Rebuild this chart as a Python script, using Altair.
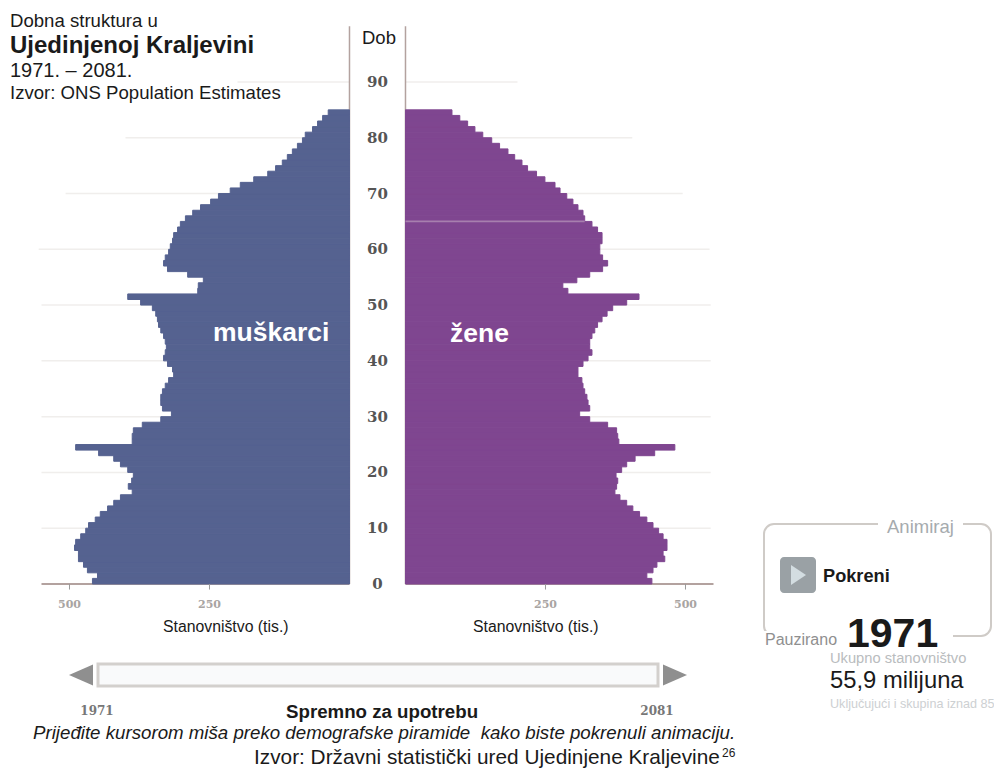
import altair as alt
import pandas as pd

# Population by single year of age (thousands), 1971
male = [459,450,468,475,484,484,491,489,480,471,466,454,445,432,421,409,388,395,389,386,
        396,409,421,448,489,388,388,386,370,337,318,334,337,337,334,329,323,314,316,325,
        332,329,327,329,332,337,341,343,346,352,373,396,271,270,261,289,325,332,329,323,
        320,316,314,307,302,293,280,266,248,234,213,195,171,146,132,120,111,102,93,84,
        79,66,57,48,38]
female = [440,431,442,449,463,460,467,467,460,452,442,431,418,406,395,383,374,377,379,376,
          386,395,410,445,481,381,379,377,361,329,311,329,326,324,320,317,315,308,308,317,
          326,333,329,329,333,338,343,351,360,370,395,417,290,281,306,329,352,361,352,347,
          347,351,351,343,333,320,317,308,299,288,276,267,249,234,218,208,195,183,168,154,
          138,124,111,97,83]
ages = list(range(85))

grid_ages = [10, 20, 30, 40, 50, 60, 70, 80, 90]
grid_left = [550, 550, 550, 550, 550, 555, 507, 400, 200]
grid_right = [545, 545, 545, 545, 545, 543, 495, 405, 200]
age_labels = [0, 10, 20, 30, 40, 50, 60, 70, 80, 90]
pop_ticks = [250, 500]

GAP = 50       # half of the central age column, in thousands
MALE_C, FEMALE_C = "#556290", "#7f4690"
AXIS_C = "#b3a29f"
FONT = "Liberation Sans"

xs = alt.Scale(domain=[-659.8, 1100.9], nice=False, zero=False)
ys = alt.Scale(domain=[-32.99, 103.26], nice=False, zero=False)
X = lambda f: alt.X(f, type="quantitative", scale=xs, axis=None)
Y = lambda f: alt.Y(f, type="quantitative", scale=ys, axis=None)

bars = pd.DataFrame(
    [{"a": a, "a1": a + 1, "x0": -GAP, "x1": -GAP - v, "c": MALE_C} for a, v in zip(ages, male)]
    + [{"a": a, "a1": a + 1, "x0": GAP, "x1": GAP + v, "c": FEMALE_C} for a, v in zip(ages, female)]
)
grid = pd.DataFrame(
    [{"a": a, "x0": -GAP, "x1": -GAP - v} for a, v in zip(grid_ages, grid_left)]
    + [{"a": a, "x0": GAP, "x1": GAP + v} for a, v in zip(grid_ages, grid_right)]
)
ticks = pd.DataFrame(
    [{"x": s * (GAP + t), "t": str(t), "a": 0, "a2": -1, "ay": -3.7} for t in pop_ticks for s in (-1, 1)]
)
base_line = pd.DataFrame([{"x0": -GAP, "x1": -GAP - 550, "a": 0}, {"x0": GAP, "x1": GAP + 550, "a": 0}])
columns = pd.DataFrame([{"x": -GAP, "a": 0, "a2": 100}, {"x": GAP, "a": 0, "a2": 100}])
age_df = pd.DataFrame({"a": age_labels, "t": [str(a) for a in age_labels], "x": [0] * len(age_labels)})
hilite = pd.DataFrame([{"x0": GAP, "x1": GAP + 320, "a": 65}])

layers = []
layers.append(alt.Chart(grid).mark_rule(color="#f0eeec", strokeWidth=1.5).encode(
    x=X("x0"), x2="x1", y=Y("a")))
layers.append(alt.Chart(columns).mark_rule(color=AXIS_C, strokeWidth=1.5).encode(
    x=X("x"), y=Y("a"), y2="a2"))
layers.append(alt.Chart(base_line).mark_rule(color=AXIS_C, strokeWidth=2).encode(
    x=X("x0"), x2="x1", y=Y("a")))
layers.append(alt.Chart(bars).mark_rect(strokeWidth=1).encode(
    x=X("x0"), x2="x1", y=Y("a"), y2="a1",
    fill=alt.Fill("c:N", scale=None), stroke=alt.Stroke("c:N", scale=None)))
layers.append(alt.Chart(hilite).mark_rule(color="#a77fae", strokeWidth=1.8).encode(
    x=X("x0"), x2="x1", y=Y("a")))
layers.append(alt.Chart(ticks).mark_rule(color="#9a9a9a", strokeWidth=1).encode(
    x=X("x"), y=Y("a"), y2="a2"))
layers.append(alt.Chart(ticks).mark_text(font="DejaVu Serif", fontSize=11, fontWeight="bold", color="#a8a4a2").encode(
    x=X("x"), y=Y("ay"), text="t:N"))
layers.append(alt.Chart(age_df).mark_text(font="DejaVu Serif", fontSize=15, color="#555555", fontWeight="bold").encode(
    x=X("x"), y=Y("a"), text="t:N"))


def txt(s, x, y, size, color="#1a1a1a", weight="normal", style="normal", font=FONT, align="left"):
    return alt.Chart(pd.DataFrame({"t": [s]})).mark_text(
        font=font, fontSize=size, color=color, fontWeight=weight, fontStyle=style,
        align=align, baseline="alphabetic", text=s
    ).encode(x=alt.value(x - 8), y=alt.value(y - 8))


def box(x, x2, y, y2, **kw):
    return alt.Chart(pd.DataFrame({"t": [0]})).mark_rect(**kw).encode(
        x=alt.value(x - 8), x2=alt.value(x2 - 8), y=alt.value(y - 8), y2=alt.value(y2 - 8))


def tri(shape, x, y, size, color):
    return alt.Chart(pd.DataFrame({"t": [0]})).mark_point(
        shape=shape, size=size, fill=color, filled=True, opacity=1, strokeWidth=0
    ).encode(x=alt.value(x - 8), y=alt.value(y - 8))


# slider
layers += [
    box(98, 658, 664, 686, fill="#f9fafb", stroke="#d3d0cd", strokeWidth=3),
    tri("M1,-0.875L-1,0L1,0.875Z", 81, 675, 576, "#8f8f8f"),
    tri("M-1,-0.875L1,0L-1,0.875Z", 675, 675, 576, "#8f8f8f"),
    txt("1971", 97, 715, 12, color="#777", weight="bold", font="DejaVu Serif", align="center"),
    txt("2081", 657, 715, 12, color="#777", weight="bold", font="DejaVu Serif", align="center"),
]
# animation panel
layers += [
    box(764, 991, 524, 636, fill="transparent", stroke="#cfcbc7", strokeWidth=2, cornerRadius=10),
    box(878, 963, 515, 535, fill="white"),
    box(755, 953, 631, 650, fill="white"),
    box(780, 816, 557, 593, fill="#9aa1a5", cornerRadius=4),
    tri("M-0.75,-1L0.75,0L-0.75,1Z", 798.5, 575, 400, "#d3dde1"),
]
layers += [
    txt("Dobna struktura u", 10, 27, 18.6),
    txt("Ujedinjenoj Kraljevini", 10, 53, 24, weight="bold"),
    txt("1971. – 2081.", 10, 77, 20),
    txt("Izvor: ONS Population Estimates", 10, 99, 18.6),
    txt("Dob", 362, 44, 18.5),
    txt("muškarci", 213, 341, 26.5, color="white", weight="bold"),
    txt("žene", 450, 342, 26.5, color="white", weight="bold"),
    txt("Stanovništvo (tis.)", 163, 632, 15.8),
    txt("Stanovništvo (tis.)", 473, 632, 15.8),
    txt("Spremno za upotrebu", 286, 718, 18.7, weight="bold"),
    txt("Prijeđite kursorom miša preko demografske piramide\u00a0 kako biste pokrenuli animaciju.", 33, 739, 18.7, style="italic"),
    txt("Izvor: Državni statistički ured Ujedinjene Kraljevine", 254, 764, 20.8),
    txt("26", 722, 757, 12),
    txt("Animiraj", 887, 533, 18.5, color="#a6abae"),
    txt("Pokreni", 823, 582, 18.2, weight="bold"),
    txt("Pauzirano", 765, 645, 16, color="#8f8f8f"),
    txt("1971", 847, 647, 41, weight="bold"),
    txt("Ukupno stanovništvo", 830, 663, 14.7, color="#b9bcbe"),
    txt("55,9 milijuna", 830, 688, 23.8),
    txt("Uključujući i skupina iznad 85", 830, 708, 12.6, color="#cdd0d2"),
]

chart = alt.layer(*layers).properties(
    width=986, height=760, padding=0, autosize=alt.AutoSizeParams(type="none"),
    background="white"
).configure_view(stroke=None)

chart.save("out.html", embed_options={"renderer": "svg", "actions": False})
